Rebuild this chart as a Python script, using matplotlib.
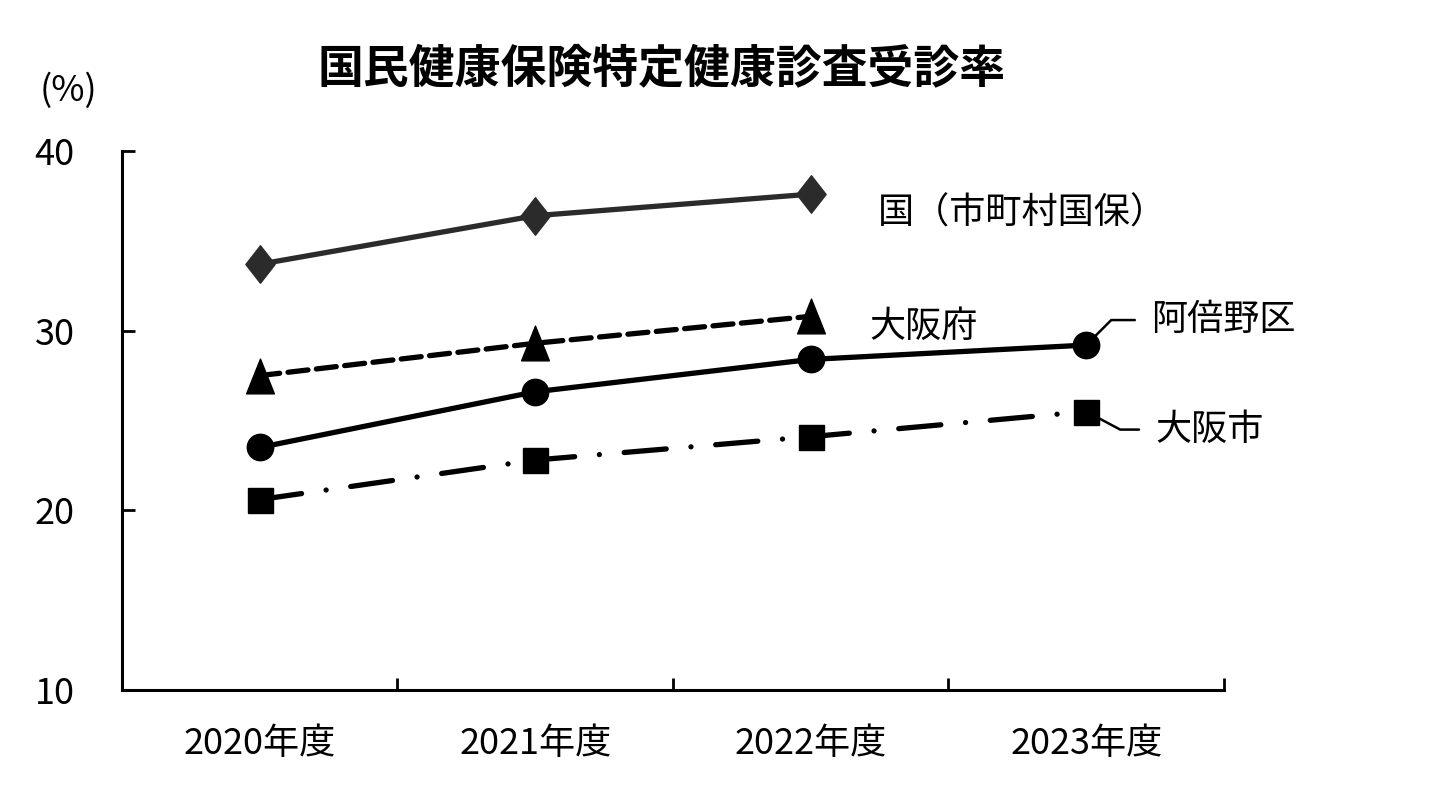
import matplotlib
matplotlib.use("Agg")
import matplotlib.pyplot as plt
from matplotlib.path import Path

plt.rcParams['font.family'] = ['Noto Sans CJK JP', 'DejaVu Sans']

years = ['2020年度', '2021年度', '2022年度', '2023年度']
kuni = [33.7, 36.4, 37.6]          # 国（市町村国保）
osaka_fu = [27.5, 29.3, 30.8]      # 大阪府
abeno = [23.5, 26.6, 28.4, 29.2]   # 阿倍野区
osaka_shi = [20.6, 22.8, 24.1, 25.5]  # 大阪市

# tall diamond / tall triangle markers like the original
diamond = Path([(0, 1), (0.78, 0), (0, -1), (-0.78, 0), (0, 1)], closed=True)
tri = Path([(-0.4, -0.5), (0.4, -0.5), (0, 0.5), (-0.4, -0.5)], closed=True)

fig = plt.figure(figsize=(14.54, 7.92), dpi=100)
ax = fig.add_axes([0.0839, 0.1288, 0.7579, 0.6805])

x = list(range(len(years)))
lw = 3.8
ax.plot(x[:3], kuni, color='#2b2b2b', lw=lw, marker=diamond, markersize=27,
        solid_capstyle='round')
ax.plot(x[:3], osaka_fu, color='black', lw=lw, marker=tri, markersize=25,
        linestyle=(0, (3.8, 1.6)), dash_capstyle='round')
ax.plot(x, abeno, color='black', lw=lw, marker='o', markersize=19)
ax.plot(x, osaka_shi, color='black', lw=lw, marker='s', markersize=18,
        linestyle=(0, (8.0, 4.7, 0.01, 4.7)), dash_capstyle='round')

lab = dict(fontsize=26, textcoords='offset points', va='center', ha='left')
ax.annotate('国（市町村国保）', (x[2], kuni[-1]), xytext=(48, -14), **lab)
ax.annotate('大阪府', (x[2], osaka_fu[-1]), xytext=(42, -8), **lab)
ax.annotate('阿倍野区', (x[3], abeno[-1]), xytext=(47, 18), zorder=1,
            arrowprops=dict(arrowstyle='-', color='black', lw=1.8, relpos=(0, 0.5),
                            connectionstyle='angle,angleA=0,angleB=45,rad=0',
                            shrinkA=10, shrinkB=0), **lab)
ax.annotate('大阪市', (x[3], osaka_shi[-1]), xytext=(50, -13), zorder=1,
            arrowprops=dict(arrowstyle='-', color='black', lw=1.8, relpos=(0, 0.5),
                            connectionstyle='angle,angleA=0,angleB=-28,rad=0',
                            shrinkA=10, shrinkB=0), **lab)

ax.set_xlim(-0.5, 3.5)
ax.set_ylim(10, 40)
ax.set_yticks([10, 20, 30, 40])
ax.set_xticks([0.5, 1.5, 2.5, 3.5])
ax.set_xticklabels([])
ax.set_xticks(x, minor=True)
ax.set_xticklabels(years, minor=True)
ax.tick_params(axis='x', which='minor', length=0, labelsize=26, pad=26)
ax.tick_params(axis='x', which='major', direction='in', length=9, width=2)
ax.tick_params(axis='y', direction='in', length=9, width=2, labelsize=26, pad=34)

for s in ['top', 'right']:
    ax.spines[s].set_visible(False)
for s in ['left', 'bottom']:
    ax.spines[s].set_linewidth(2.2)

fig.text(0.455, 0.912, '国民健康保険特定健康診査受診率', ha='center', va='center',
         fontsize=33, fontweight='bold')
fig.text(0.047, 0.886, '(%)', ha='center', va='center', fontsize=26)

plt.savefig('out.png', dpi=100, facecolor='white')
